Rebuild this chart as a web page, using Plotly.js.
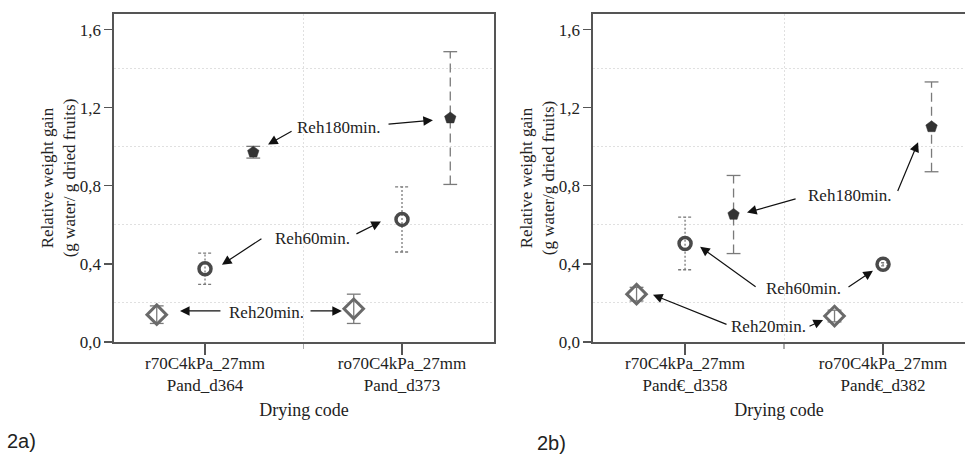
<!DOCTYPE html>
<html>
<head>
<meta charset="utf-8">
<script src="https://cdn.plot.ly/plotly-3.0.1.min.js"></script>
<style>html,body{margin:0;padding:0;background:#fff;}#chart{width:965px;height:454px;}</style>
</head>
<body>
<div id="chart"></div>
<script>
// ---- data ----
const categoriesA = ['r70C4kPa_27mm<br>Pand_d364', 'ro70C4kPa_27mm<br>Pand_d373'];
const categoriesB = ['r70C4kPa_27mm<br>Pand€_d358', 'ro70C4kPa_27mm<br>Pand€_d382'];
const groups = ['Reh20min.', 'Reh60min.', 'Reh180min.'];

const meanA_Reh20 = [0.14, 0.17];
const errA_Reh20 = [0.045, 0.075];
const meanA_Reh60 = [0.375, 0.628];
const errA_Reh60 = [0.08, 0.167];
const meanA_Reh180 = [0.972, 1.147];
const errA_Reh180 = [0.03, 0.34];

const meanB_Reh20 = [0.245, 0.133];
const errB_Reh20 = [0.035, 0.03];
const meanB_Reh60 = [0.505, 0.398];
const errB_Reh60 = [0.135, 0.008];
const meanB_Reh180 = [0.653, 1.102];
const errB_Reh180 = [0.2, 0.23];

const yTicks = [0, 0.4, 0.8, 1.2, 1.6];
const yGrid = [0.2, 0.6, 1.0, 1.4];

// ---- styling ----
const FONT = '"Liberation Serif", "Times New Roman", serif';
const SANS = '"Liberation Sans", Arial, sans-serif';
const offsets = [-0.245, 0, 0.245];
const capHalf = 0.035;
const markerStyles = [
  {symbol: 'diamond-open', size: 15, color: '#6a6a6a', line: {width: 3, color: '#6a6a6a'}},
  {symbol: 'circle-open', size: 12, color: '#4a4a4a', line: {width: 3.5, color: '#4a4a4a'}},
  {symbol: 'pentagon', size: 12, color: '#333333', line: {width: 0.5, color: '#333333'}}
];
const barDash = ['solid', '2px,2px', '9px,5px'];

function buildTraces(means, errs, xa, ya) {
  const tr = [];
  means.forEach((m, g) => {
    const e = errs[g];
    const sx = [], sy = [], cx = [], cy = [];
    m.forEach((v, i) => {
      const x = i + offsets[g];
      sx.push(x, x, null); sy.push(v - e[i], v + e[i], null);
      cx.push(x - capHalf, x + capHalf, null, x - capHalf, x + capHalf, null);
      cy.push(v - e[i], v - e[i], null, v + e[i], v + e[i], null);
    });
    tr.push({x: sx, y: sy, xaxis: xa, yaxis: ya, mode: 'lines', hoverinfo: 'skip',
      line: {color: '#7a7a7a', width: 1.3, dash: barDash[g]}, showlegend: false});
    tr.push({x: cx, y: cy, xaxis: xa, yaxis: ya, mode: 'lines', hoverinfo: 'skip',
      line: {color: '#7a7a7a', width: 1.3, dash: g === 1 ? '3px,2px' : 'solid'}, showlegend: false});
    tr.push({x: m.map((v, i) => i + offsets[g]), y: m, xaxis: xa, yaxis: ya, mode: 'markers',
      name: groups[g], marker: markerStyles[g], showlegend: false});
  });
  return tr;
}

const traces = [
  ...buildTraces([meanA_Reh20, meanA_Reh60, meanA_Reh180], [errA_Reh20, errA_Reh60, errA_Reh180], 'x', 'y'),
  ...buildTraces([meanB_Reh20, meanB_Reh60, meanB_Reh180], [errB_Reh20, errB_Reh60, errB_Reh180], 'x2', 'y2')
];

const axisLine = '#555555';
function xAxis(domain, range, cats, anchor) {
  return {
    anchor: anchor, domain: domain, range: range, tickmode: 'array', tickvals: [0, 1], ticktext: cats,
    ticks: 'outside', ticklen: 11, tickcolor: axisLine, tickwidth: 1.3, ticklabelstandoff: -6,
    showline: true, linecolor: axisLine, linewidth: 1.6, mirror: true,
    showgrid: false, zeroline: false,
    tickfont: {family: FONT, size: 17, color: '#222'},
    minor: {tickmode: 'array', tickvals: [0.5], ticks: 'outside', ticklen: 5, tickcolor: '#aaaaaa',
      showgrid: true, gridcolor: '#e0e0e0', griddash: '2px,2px', gridwidth: 1},
    title: {text: 'Drying code', font: {family: FONT, size: 18, color: '#222'}, standoff: 9},
    fixedrange: true
  };
}
function yAxis(anchor, mirror, title) {
  return {
    anchor: anchor, domain: [0, 1], range: [0, 1.68], tickmode: 'array', tickvals: yTicks,
    tickformat: '.1f', ticks: 'outside', ticklen: 8, tickcolor: axisLine, tickwidth: 1.3,
    showline: true, linecolor: axisLine, linewidth: 1.6, mirror: mirror,
    showgrid: false, zeroline: false,
    tickfont: {family: FONT, size: 17, color: '#222'},
    minor: {tickmode: 'array', tickvals: yGrid, ticks: '', showgrid: true, gridcolor: '#e0e0e0', griddash: '2px,2px', gridwidth: 1},
    title: {text: title, font: {family: FONT, size: 17, color: '#222'}, standoff: 0},
    fixedrange: true
  };
}

function arrow(xref, yref, x, y, ax, ay) {
  return {xref: xref, yref: yref, axref: xref, ayref: yref, x: x, y: y, ax: ax, ay: ay,
    text: '', showarrow: true, arrowhead: 2, arrowsize: 1.6, arrowwidth: 1.2, arrowcolor: '#111',
    standoff: 0, startstandoff: 0};
}
function label(xref, yref, x, y, t) {
  return {xref: xref, yref: yref, x: x, y: y, text: t, showarrow: false,
    font: {family: FONT, size: 17, color: '#222'}};
}

const annotations = [
  label('x', 'y', 0.68, 1.10, groups[2]),
  arrow('x', 'y', 0.32, 1.012, 0.447, 1.084),
  arrow('x', 'y', 1.157, 1.136, 0.924, 1.115),
  label('x', 'y', 0.548, 0.529, groups[1]),
  arrow('x', 'y', 0.086, 0.396, 0.294, 0.534),
  arrow('x', 'y', 0.893, 0.617, 0.761, 0.55),
  label('x', 'y', 0.31, 0.149, groups[0]),
  arrow('x', 'y', -0.127, 0.159, 0.086, 0.159),
  arrow('x', 'y', 0.695, 0.159, 0.528, 0.159),

  label('x2', 'y2', 0.833, 0.75, groups[2]),
  arrow('x2', 'y2', 0.313, 0.663, 0.566, 0.735),
  arrow('x2', 'y2', 1.177, 1.023, 1.071, 0.766),
  label('x2', 'y2', 0.596, 0.272, groups[1]),
  arrow('x2', 'y2', 0.076, 0.488, 0.364, 0.277),
  arrow('x2', 'y2', 0.949, 0.365, 0.818, 0.277),
  label('x2', 'y2', 0.419, 0.077, groups[0]),
  arrow('x2', 'y2', -0.162, 0.242, 0.217, 0.087),
  arrow('x2', 'y2', 0.697, 0.113, 0.621, 0.077),

  {xref: 'paper', yref: 'paper', x: 0.006, y: -0.302, xanchor: 'left', yanchor: 'middle', text: '2a)', showarrow: false,
    borderpad: 0, font: {family: SANS, size: 20, color: '#222'}},
  {xref: 'paper', yref: 'paper', x: 0.555, y: -0.308, xanchor: 'left', yanchor: 'middle', text: '2b)', showarrow: false,
    borderpad: 0, font: {family: SANS, size: 20, color: '#222'}}
];

const layout = {
  width: 965, height: 454,
  margin: {l: 0, r: 0, t: 14, b: 112, pad: 0},
  paper_bgcolor: '#ffffff', plot_bgcolor: '#ffffff',
  separators: ',.',
  showlegend: false,
  font: {family: FONT, color: '#222'},
  xaxis: xAxis([114 / 965, 494 / 965], [-0.462, 1.467], categoriesA, 'y'),
  yaxis: yAxis('x', true, 'Relative weight gain<br>(g water/ g dried fruits)'),
  xaxis2: xAxis([593 / 965, 1], [-0.465, 1.414], categoriesB, 'y2'),
  yaxis2: yAxis('x2', false, 'Relative weight gain<br>(g water/g dried fruits)'),
  annotations: annotations
};

Plotly.newPlot('chart', traces, layout, {displayModeBar: false, staticPlot: true});
</script>
</body>
</html>
